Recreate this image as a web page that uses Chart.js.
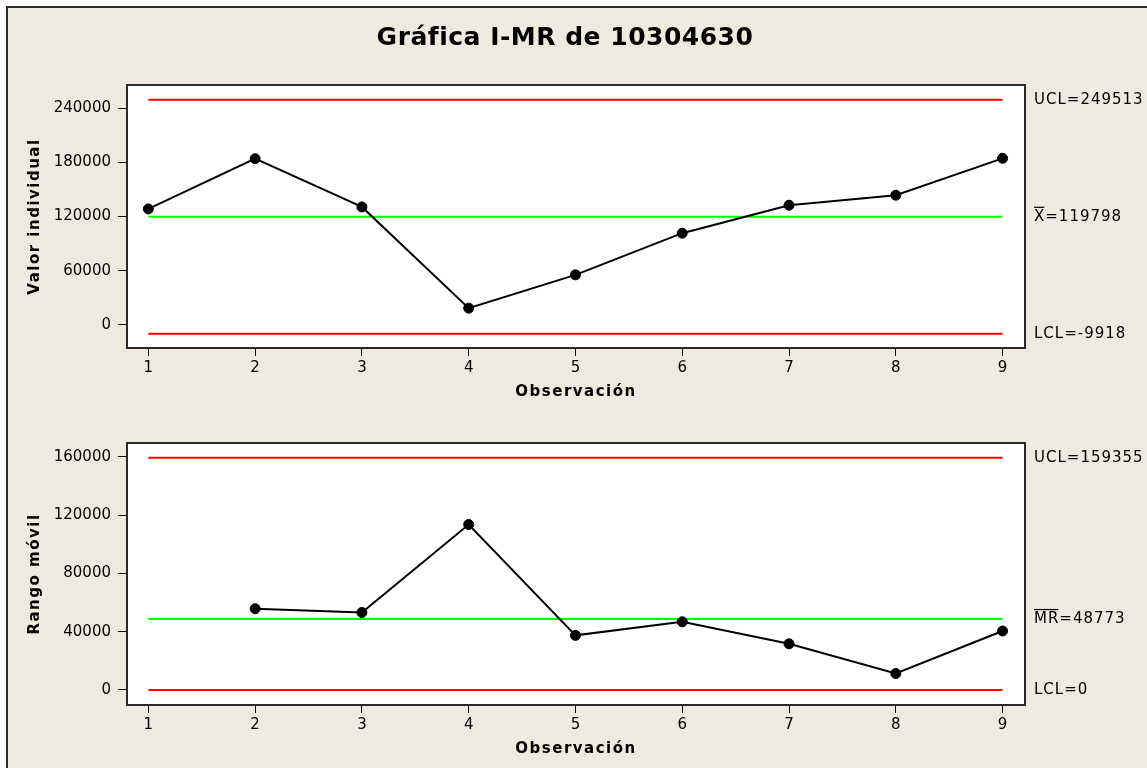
<!DOCTYPE html>
<html lang="es">
<head>
<meta charset="utf-8">
<title>Gráfica I-MR de 10304630</title>
<script src="https://cdn.jsdelivr.net/npm/chart.js@4.4.1/dist/chart.umd.min.js"></script>
<style>
  html, body { margin: 0; padding: 0; background: #ffffff; }
  body { width: 1147px; height: 768px; position: relative; overflow: hidden; }
  #frame {
    position: absolute; left: 6px; top: 6px; width: 1160px; height: 780px;
    background: #EEEAE0; border-top: 2px solid #2a2a2a; border-left: 2px solid #2a2a2a;
  }
  canvas { position: absolute; left: 0; }
  #cI { top: 0; }
  #cMR { top: 410px; }
</style>
</head>
<body>
<div id="frame"></div>
<canvas id="cI" width="1147" height="410"></canvas>
<canvas id="cMR" width="1147" height="358"></canvas>
<script>
// Observations and measured values
const observations = [1, 2, 3, 4, 5, 6, 7, 8, 9];
const individualValues = [128400, 184100, 130600, 18400, 55300, 101500, 132500, 143600, 184500];
const movingRanges = [null, 55800, 53200, 113600, 37500, 46800, 31700, 11300, 40500];

// Control limits
const iLimits = { ucl: 249513, center: 119798, lcl: -9918 };
const mrLimits = { ucl: 159355, center: 48773, lcl: 0 };

// Axis ticks
const iTicks = [0, 60000, 120000, 180000, 240000];
const mrTicks = [0, 40000, 80000, 120000, 160000];
const xTicks = [1, 2, 3, 4, 5, 6, 7, 8, 9];

const FONT = "'DejaVu Sans', Verdana, sans-serif";
const RED = '#FF0000';
const GREEN = '#00FF00';

function pointsOf(values) {
  const pts = [];
  values.forEach((v, i) => { if (v !== null) pts.push({ x: observations[i], y: v }); });
  return pts;
}
function limitLine(value, color) {
  return {
    data: [{ x: observations[0], y: value }, { x: observations[observations.length - 1], y: value }],
    borderColor: color, borderWidth: 2, pointRadius: 0, pointHoverRadius: 0, order: 2
  };
}

// Panel decoration: white plot area, frame, axis titles, limit labels
const panelDeco = {
  id: 'panelDeco',
  beforeDatasetsDraw(chart) {
    const a = chart.chartArea, ctx = chart.ctx;
    ctx.save();
    ctx.fillStyle = '#ffffff';
    ctx.fillRect(a.left, a.top, a.right - a.left, a.bottom - a.top);
    ctx.restore();
  },
  afterDraw(chart, args, opts) {
    const a = chart.chartArea, ctx = chart.ctx, ys = chart.scales.y;
    ctx.save();
    ctx.strokeStyle = '#2a2a2a';
    ctx.lineWidth = 2;
    ctx.strokeRect(a.left, a.top, a.right - a.left, a.bottom - a.top);

    // axis titles
    ctx.fillStyle = '#000';
    ctx.font = 'bold 15px ' + FONT;
    ctx.letterSpacing = '1.5px';
    ctx.textAlign = 'center';
    ctx.textBaseline = 'middle';
    ctx.fillText('Observación', (a.left + a.right) / 2, a.bottom + opts.xTitleOffset);
    ctx.save();
    ctx.translate(35, (a.top + a.bottom) / 2);
    ctx.rotate(-Math.PI / 2);
    ctx.fillText(opts.yTitle, 0, 0);
    ctx.restore();

    // control limit labels on the right
    ctx.font = '15px ' + FONT;
    ctx.letterSpacing = '1px';
    ctx.textAlign = 'left';
    ctx.textBaseline = 'middle';
    const x0 = a.right + 9;
    opts.labels.forEach(l => {
      const y = ys.getPixelForValue(l.value);
      ctx.fillText(l.text, x0, y);
      if (l.bar) {
        const w = ctx.measureText(l.text.slice(0, l.bar)).width - 1;
        ctx.fillRect(x0, y - 10, w, 1.2);
      }
    });

    if (opts.title) {
      ctx.font = 'bold 25px ' + FONT;
      ctx.letterSpacing = '0.5px';
      ctx.textAlign = 'center';
      ctx.textBaseline = 'middle';
      ctx.fillText(opts.title, 565, 38);
    }
    ctx.restore();
  }
};

function makeChart(canvasId, cfg) {
  return new Chart(document.getElementById(canvasId), {
    type: 'line',
    data: {
      datasets: [
        {
          data: pointsOf(cfg.values),
          borderColor: '#000', borderWidth: 2, tension: 0,
          pointRadius: 5, pointBackgroundColor: '#000', pointBorderColor: '#000',
          pointBorderWidth: 1, order: 1
        },
        limitLine(cfg.limits.ucl, RED),
        limitLine(cfg.limits.center, GREEN),
        limitLine(cfg.limits.lcl, RED)
      ]
    },
    options: {
      responsive: false,
      animation: false,
      events: [],
      layout: { padding: { top: cfg.padTop, left: 0, right: 122, bottom: 0 } },
      plugins: {
        legend: { display: false },
        tooltip: { enabled: false },
        title: { display: false },
        panelDeco: {
          yTitle: cfg.yTitle, labels: cfg.labels, title: cfg.title || null,
          xTitleOffset: 44
        }
      },
      scales: {
        x: {
          type: 'linear', min: 0.8, max: 9.21,
          afterBuildTicks: s => { s.ticks = xTicks.map(v => ({ value: v })); },
          afterFit: s => { s.height = cfg.xHeight; },
          grid: { drawOnChartArea: false, drawTicks: true, tickLength: 8, color: '#000', lineWidth: 1 },
          border: { display: false },
          ticks: { color: '#000', font: { family: FONT, size: 15 }, padding: 3, maxRotation: 0,
                   callback: v => String(v) }
        },
        y: {
          type: 'linear', min: cfg.yMin, max: cfg.yMax,
          afterBuildTicks: s => { s.ticks = cfg.ticks.map(v => ({ value: v })); },
          afterFit: s => { s.width = 127; },
          grid: { drawOnChartArea: false, drawTicks: true, tickLength: 9, color: '#000', lineWidth: 1 },
          border: { display: false },
          ticks: { color: '#000', font: { family: FONT, size: 15 }, padding: 7,
                   callback: v => String(v) }
        }
      }
    },
    plugins: [panelDeco]
  });
}

makeChart('cI', {
  values: individualValues, limits: iLimits, ticks: iTicks,
  yMin: -25800, yMax: 265800, padTop: 85, xHeight: 62,
  yTitle: 'Valor individual',
  title: 'Gráfica I-MR de 10304630',
  labels: [
    { value: iLimits.ucl, text: 'UCL=' + iLimits.ucl },
    { value: iLimits.center, text: 'X=' + iLimits.center, bar: 1 },
    { value: iLimits.lcl, text: 'LCL=' + iLimits.lcl }
  ]
});

makeChart('cMR', {
  values: movingRanges, limits: mrLimits, ticks: mrTicks,
  yMin: -10300, yMax: 169550, padTop: 33, xHeight: 63,
  yTitle: 'Rango móvil',
  labels: [
    { value: mrLimits.ucl, text: 'UCL=' + mrLimits.ucl },
    { value: mrLimits.center, text: 'MR=' + mrLimits.center, bar: 2 },
    { value: mrLimits.lcl, text: 'LCL=' + mrLimits.lcl }
  ]
});
</script>
</body>
</html>
